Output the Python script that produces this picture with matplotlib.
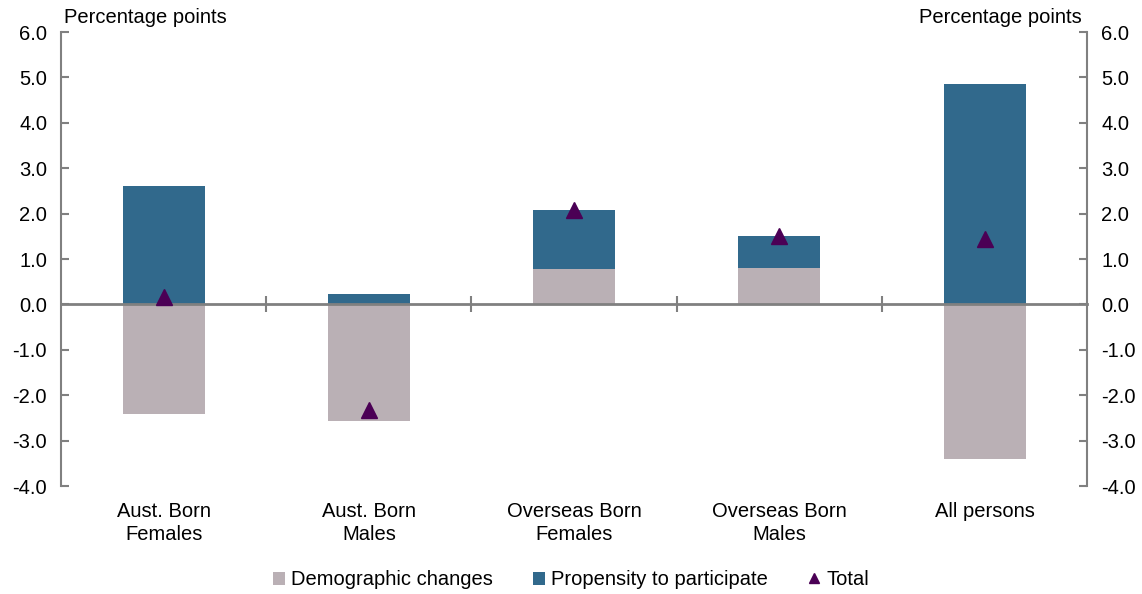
import numpy as np
import matplotlib.pyplot as plt

plt.rcParams['font.family'] = ['Liberation Sans', 'DejaVu Sans']

# Data (percentage points)
categories = ["Aust. Born\nFemales", "Aust. Born\nMales", "Overseas Born\nFemales",
              "Overseas Born\nMales", "All persons"]
demographic = [-2.42, -2.57, 0.77, 0.81, -3.40]
propensity = [2.60, 0.23, 1.30, 0.69, 4.85]
total = [0.17, -2.33, 2.07, 1.50, 1.45]

col_demo = "#bab0b5"
col_prop = "#31698c"
col_total = "#4b0055"
grey = "#808080"

fig = plt.figure(figsize=(11.42, 5.94), dpi=100)
ax = fig.add_axes([0.0534, 0.1818, 0.8986, 0.7643])

x = np.arange(len(categories))
demo = np.array(demographic)
prop = np.array(propensity)
# stack propensity on top of positive demographic values only
base = np.where(demo > 0, demo, 0)

b1 = ax.bar(x, demo, width=0.4, color=col_demo, label="Demographic changes", zorder=2)
b2 = ax.bar(x, prop, width=0.4, bottom=base, color=col_prop, label="Propensity to participate", zorder=2)
l1, = ax.plot(x, total, linestyle="none", marker="^", markersize=12, color=col_total,
              label="Total", zorder=4)

ax.set_xlim(-0.5, len(categories) - 0.5)
ax.set_ylim(-4, 6)
ax.set_yticks(np.arange(-4, 7, 1))
ax.yaxis.set_major_formatter(plt.FuncFormatter(lambda v, p: f"{v:.1f}"))

# zero line acts as the category axis
ax.spines['top'].set_visible(False)
ax.spines['bottom'].set_position(('data', 0))
ax.spines['bottom'].set_zorder(3)
for s in ['left', 'right', 'bottom']:
    ax.spines[s].set_color(grey)
    ax.spines[s].set_linewidth(2)
ax.spines['left'].set_linewidth(1.5)
ax.spines['right'].set_linewidth(1.5)

ax.set_xticks(np.arange(0.5, len(categories) - 0.5, 1))
ax.set_xticklabels([])
ax.tick_params(axis='x', direction='inout', length=12, width=1.5, color=grey)
ax.tick_params(axis='y', direction='in', length=6, width=1.5, color=grey,
               left=True, right=True, labelleft=True, labelright=True,
               labelsize=14.5, pad=10)

for xi, lab in zip(x, categories):
    ax.text(xi, -0.035, lab, transform=ax.get_xaxis_transform(), ha='center', va='top',
            fontsize=14.5, linespacing=1.25)

ax.text(0.003, 1.012, "Percentage points", transform=ax.transAxes, ha='left', va='bottom', fontsize=14.5)
ax.text(0.995, 1.012, "Percentage points", transform=ax.transAxes, ha='right', va='bottom', fontsize=14.5)

fig.legend([b1, b2, l1], ["Demographic changes", "Propensity to participate", "Total"],
           loc='center', bbox_to_anchor=(0.5, 0.024), ncol=3,
           frameon=False, fontsize=14.5, handlelength=0.6, handleheight=0.6,
           handletextpad=0.3, columnspacing=2.0, markerscale=0.6)

fig.savefig("out.png", dpi=100)
